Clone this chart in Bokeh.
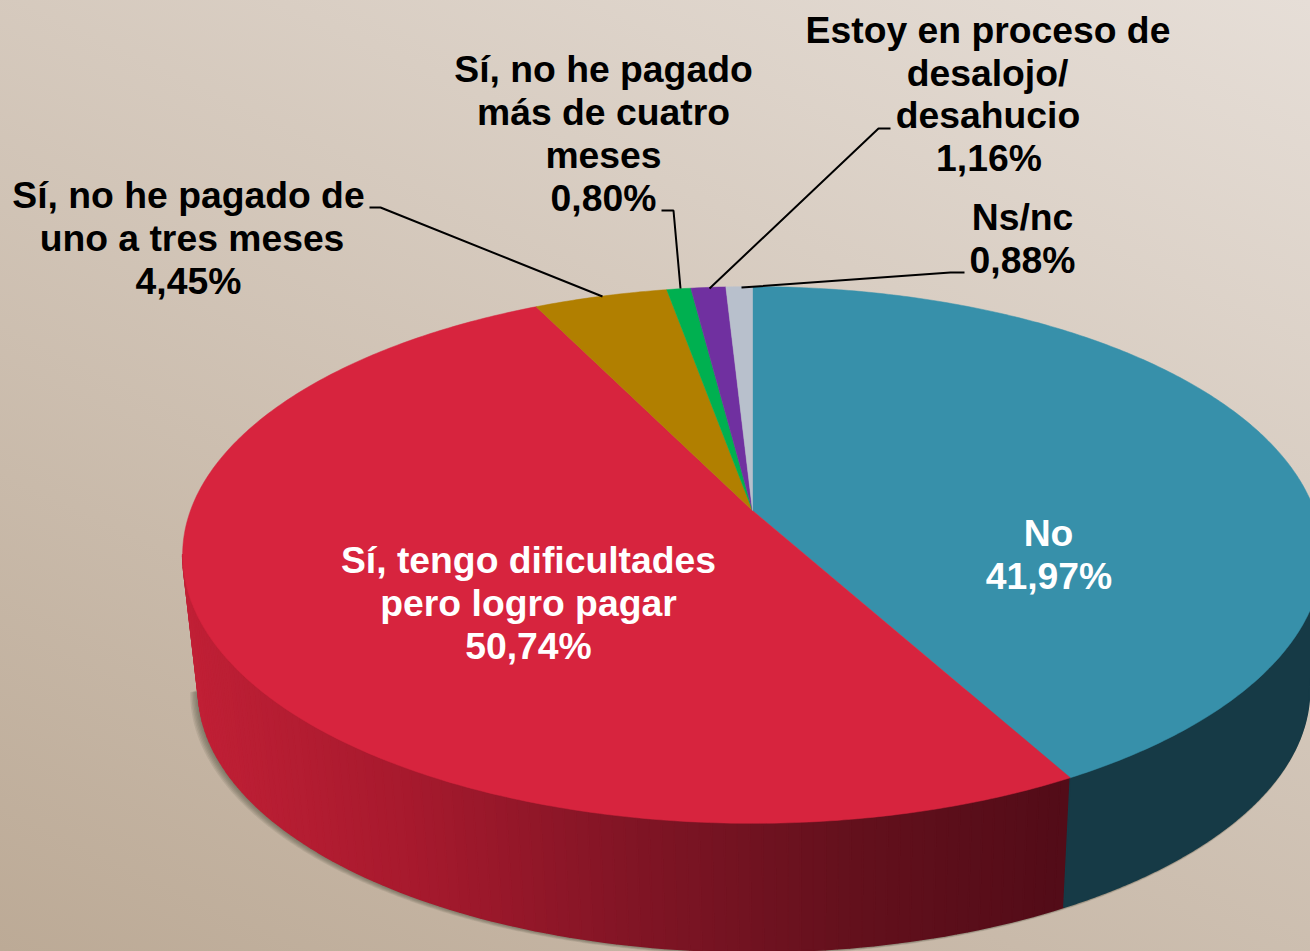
import numpy as np
from bokeh.plotting import figure
from bokeh.models import ColumnDataSource, Range1d
from bokeh.core.properties import value
from bokeh.embed import file_html
from bokeh.resources import INLINE

categories = ["No", "Sí, tengo dificultades pero logro pagar", "Sí, no he pagado de uno a tres meses",
              "Sí, no he pagado más de cuatro meses", "Estoy en proceso de desalojo/desahucio", "Ns/nc"]
shares = [41.97, 50.74, 4.45, 0.80, 1.16, 0.88]
top_colors = ["#3790aa", "#d7243e", "#b17f00", "#00b050", "#7030a0", "#b8c0cc"]

label_lines = ["Estoy en proceso de", "desalojo/", "desahucio", "1,16%",
               "Sí, no he pagado", "más de cuatro", "meses", "0,80%",
               "Sí, no he pagado de", "uno a tres meses", "4,45%",
               "Ns/nc", "0,88%",
               "No", "41,97%",
               "Sí, tengo dificultades", "pero logro pagar", "50,74%"]
label_x = [987.5, 987, 987.5, 988.5, 603, 603, 603, 603, 188, 191.5, 188, 1022, 1022, 1048, 1048.5, 528, 528, 528]
label_y = [29, 72, 114, 157, 68, 111, 154, 197, 194, 237, 280, 216, 259, 532, 575, 559, 602, 645]
label_col = ["#000000"] * 13 + ["#ffffff"] * 5

leader_x = [[369, 380, 602], [661, 673, 680], [890, 878, 709], [964, 950, 741]]
leader_y = [[207, 207, 296], [210, 210, 288], [128, 128, 288], [272, 272, 287]]

# projection of the pie disc
AX, BY, K, CX, CY = 562.0, 261.0, 0.1657, 752.0, 510.0
NY, S, LOW_DX = 5961.0, 0.975, 1.5
WALL_RIGHT, WALL_LEFT = 27.6, 72.4  # where the outer wall leaves the hidden back, in percent of the turn


def top_pt(pct):
    t = np.radians(np.asarray(pct, dtype=float) * 3.6)
    w = 1 + K * np.cos(t)
    return CX + AX * np.sin(t) / w, CY - BY * np.cos(t) / w


def low_pt(pct):
    x, y = top_pt(pct)
    return CX + LOW_DX + S * (x - CX), NY + S * (y - NY)


W, H = 1310, 951
p = figure(width=W, height=H, output_backend="svg", toolbar_location=None,
           x_range=Range1d(0, W), y_range=Range1d(H, 0), min_border=0,
           background_fill_color=None, border_fill_color=None, outline_line_color=None)
p.axis.visible = False
p.grid.visible = False
p.styles = {"position": "absolute", "left": "0", "top": "0",
            "background": "linear-gradient(25deg, rgb(188,170,150) 0%, rgb(230,222,215) 100%)"}

# soft shadow beneath the outer wall
pcts = np.linspace(WALL_RIGHT, WALL_LEFT, 500)
lx, ly = low_pt(pcts)
for d in range(1, 7):
    p.patch(lx + (lx - CX) * 0.0012 * d - 0.7 * d, ly + 0.5 * d,
            fill_color="#4a463c", fill_alpha=0.12, line_color=None)

# outer wall
cum = np.cumsum([0] + shares)
stops_x = [190, 400, 640, 850, 1065]
stops_rgb = np.array([[192, 32, 54], [168, 26, 46], [128, 21, 37], [100, 17, 29], [83, 12, 24]])
wall_x, wall_y, wall_c = [], [], []
grid = np.arange(cum[1], WALL_LEFT, 0.3).tolist() + [WALL_LEFT]
for a, b in zip(grid[:-1], grid[1:]):
    ta, tb = top_pt([a, b]), low_pt([b, a])
    wall_x.append([*ta[0], *tb[0]])
    wall_y.append([*ta[1], *tb[1]])
    xm = float(np.mean(ta[0]))
    c = [int(np.interp(xm, stops_x, stops_rgb[:, j])) for j in range(3)]
    wall_c.append("#%02x%02x%02x" % tuple(c))
arc = np.linspace(WALL_RIGHT, cum[1], 200)
ta, tb = top_pt(arc), low_pt(arc[::-1])
wall_x.append([*ta[0], *tb[0]])
wall_y.append([*ta[1], *tb[1]])
wall_c.append("#163a46")
p.patches("x", "y", source=ColumnDataSource(dict(x=wall_x, y=wall_y, c=wall_c)),
          fill_color="c", line_color="c", line_width=1.5)

# top face
tx, ty = [], []
for i in range(len(shares)):
    arc = np.linspace(cum[i], cum[i + 1], max(4, int(shares[i] * 6)))
    ax, ay = top_pt(arc)
    tx.append([CX, *ax])
    ty.append([CY, *ay])
p.patches("x", "y", source=ColumnDataSource(dict(x=tx, y=ty, c=top_colors)),
          fill_color="c", line_color="c", line_width=0.5)

# leader lines
p.multi_line(leader_x, leader_y, line_color="#000000", line_width=2)

# labels
p.text("x", "y", text="t", source=ColumnDataSource(dict(x=label_x, y=label_y, t=label_lines, c=label_col)),
       text_color="c", text_font=value("Liberation Sans"), text_font_style="bold",
       text_font_size="37.3px", text_align="center", text_baseline="alphabetic")

open("out.html", "w").write(file_html(p, INLINE))
